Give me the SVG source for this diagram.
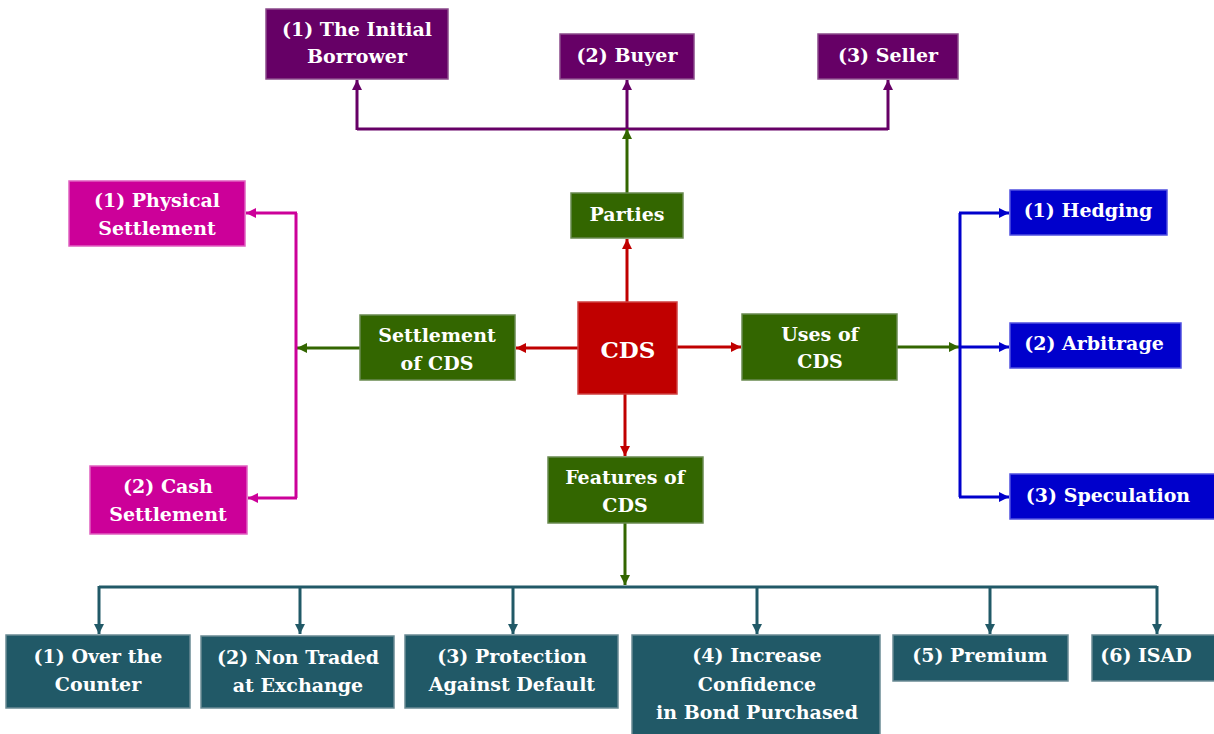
<svg xmlns="http://www.w3.org/2000/svg" width="1214" height="734" viewBox="0 0 1214 734">
<style>
text{font-family:"DejaVu Serif","Liberation Serif",serif;font-weight:bold;font-size:19px;fill:#fff;text-anchor:middle}
.big{font-size:23px}
rect{stroke-width:1.5}
.pu{fill:#660066;stroke:#8a4a8a}
.mg{fill:#cc0099;stroke:#e060c0}
.gr{fill:#336600;stroke:#6a8a50}
.rd{fill:#c00000;stroke:#d04040}
.bl{fill:#0000cc;stroke:#5050e0}
.tl{fill:#215967;stroke:#6a8a94}
#connectors path{fill:none;stroke-width:3}
</style>
<defs>
<marker id="aPu" markerUnits="userSpaceOnUse" markerWidth="12" markerHeight="12" refX="10" refY="5" orient="auto"><path d="M0,0 L10,5 L0,10 z" fill="#660066"/></marker>
<marker id="aMg" markerUnits="userSpaceOnUse" markerWidth="12" markerHeight="12" refX="10" refY="5" orient="auto"><path d="M0,0 L10,5 L0,10 z" fill="#cc0099"/></marker>
<marker id="aGr" markerUnits="userSpaceOnUse" markerWidth="12" markerHeight="12" refX="10" refY="5" orient="auto"><path d="M0,0 L10,5 L0,10 z" fill="#336600"/></marker>
<marker id="aRd" markerUnits="userSpaceOnUse" markerWidth="12" markerHeight="12" refX="10" refY="5" orient="auto"><path d="M0,0 L10,5 L0,10 z" fill="#c00000"/></marker>
<marker id="aBl" markerUnits="userSpaceOnUse" markerWidth="12" markerHeight="12" refX="10" refY="5" orient="auto"><path d="M0,0 L10,5 L0,10 z" fill="#0000cc"/></marker>
<marker id="aTl" markerUnits="userSpaceOnUse" markerWidth="12" markerHeight="12" refX="10" refY="5" orient="auto"><path d="M0,0 L10,5 L0,10 z" fill="#215967"/></marker>
</defs>
<rect width="1214" height="734" fill="#fff" stroke="none"/>
<g id="connectors">
<path d="M357,129 L888,129" stroke="#660066"/>
<path d="M357,130 L357,80" stroke="#660066" marker-end="url(#aPu)"/>
<path d="M627,130 L627,80" stroke="#660066" marker-end="url(#aPu)"/>
<path d="M888,130 L888,80" stroke="#660066" marker-end="url(#aPu)"/>
<path d="M627,193 L627,129" stroke="#336600" marker-end="url(#aGr)"/>
<path d="M627,302 L627,239" stroke="#c00000" marker-end="url(#aRd)"/>
<path d="M578,348 L516,348" stroke="#c00000" marker-end="url(#aRd)"/>
<path d="M677,347 L741,347" stroke="#c00000" marker-end="url(#aRd)"/>
<path d="M625,394 L625,456" stroke="#c00000" marker-end="url(#aRd)"/>
<path d="M360,348 L297,348" stroke="#336600" marker-end="url(#aGr)"/>
<path d="M296,213 L296,498" stroke="#cc0099"/>
<path d="M297,213 L246,213" stroke="#cc0099" marker-end="url(#aMg)"/>
<path d="M297,498 L248,498" stroke="#cc0099" marker-end="url(#aMg)"/>
<path d="M897,347 L959,347" stroke="#336600" marker-end="url(#aGr)"/>
<path d="M960,213 L960,497" stroke="#0000cc"/>
<path d="M959,213 L1009,213" stroke="#0000cc" marker-end="url(#aBl)"/>
<path d="M959,347 L1009,347" stroke="#0000cc" marker-end="url(#aBl)"/>
<path d="M959,497 L1009,497" stroke="#0000cc" marker-end="url(#aBl)"/>
<path d="M625,523 L625,585" stroke="#336600" marker-end="url(#aGr)"/>
<path d="M99,587 L1157,587" stroke="#215967"/>
<path d="M99,586 L99,634" stroke="#215967" marker-end="url(#aTl)"/>
<path d="M300,586 L300,634" stroke="#215967" marker-end="url(#aTl)"/>
<path d="M513,586 L513,634" stroke="#215967" marker-end="url(#aTl)"/>
<path d="M757,586 L757,634" stroke="#215967" marker-end="url(#aTl)"/>
<path d="M990,586 L990,634" stroke="#215967" marker-end="url(#aTl)"/>
<path d="M1157,586 L1157,634" stroke="#215967" marker-end="url(#aTl)"/>
</g>
<g id="borrower"><rect class="pu" x="266" y="9" width="182" height="70"/><text x="357" y="36">(1) The Initial</text><text x="357" y="63">Borrower</text></g>
<g id="buyer"><rect class="pu" x="560" y="34" width="134" height="45"/><text x="627" y="62">(2) Buyer</text></g>
<g id="seller"><rect class="pu" x="818" y="34" width="140" height="45"/><text x="888" y="62">(3) Seller</text></g>
<g id="parties"><rect class="gr" x="571" y="193" width="112" height="45"/><text x="627" y="221">Parties</text></g>
<g id="cds"><rect class="rd" x="578" y="302" width="99" height="92"/><text class="big" x="628" y="358">CDS</text></g>
<g id="settlement"><rect class="gr" x="360" y="315" width="155" height="65"/><text x="437" y="342">Settlement</text><text x="437" y="370">of CDS</text></g>
<g id="uses"><rect class="gr" x="742" y="314" width="155" height="66"/><text x="820" y="341">Uses of</text><text x="820" y="368">CDS</text></g>
<g id="features"><rect class="gr" x="548" y="457" width="155" height="66"/><text x="625" y="484">Features of</text><text x="625" y="512">CDS</text></g>
<g id="physical"><rect class="mg" x="69" y="181" width="176" height="65"/><text x="157" y="207">(1) Physical</text><text x="157" y="235">Settlement</text></g>
<g id="cash"><rect class="mg" x="90" y="466" width="157" height="68"/><text x="168" y="493">(2) Cash</text><text x="168" y="521">Settlement</text></g>
<g id="hedging"><rect class="bl" x="1010" y="190" width="157" height="45"/><text x="1088" y="217">(1) Hedging</text></g>
<g id="arbitrage"><rect class="bl" x="1010" y="323" width="171" height="45"/><text x="1094" y="350">(2) Arbitrage</text></g>
<g id="speculation"><rect class="bl" x="1010" y="474" width="210" height="45"/><text x="1108" y="502">(3) Speculation</text></g>
<g id="f1"><rect class="tl" x="6" y="635" width="184" height="73"/><text x="98" y="663">(1) Over the</text><text x="98" y="691">Counter</text></g>
<g id="f2"><rect class="tl" x="201" y="636" width="193" height="72"/><text x="298" y="664">(2) Non Traded</text><text x="298" y="692">at Exchange</text></g>
<g id="f3"><rect class="tl" x="405" y="635" width="213" height="73"/><text x="512" y="663">(3) Protection</text><text x="512" y="691">Against Default</text></g>
<g id="f4"><rect class="tl" x="632" y="635" width="248" height="105"/><text x="757" y="662">(4) Increase</text><text x="757" y="691">Confidence</text><text x="757" y="719">in Bond Purchased</text></g>
<g id="f5"><rect class="tl" x="893" y="635" width="175" height="46"/><text x="980" y="662">(5) Premium</text></g>
<g id="f6"><rect class="tl" x="1092" y="635" width="130" height="46"/><text x="1146" y="662">(6) ISAD</text></g>
</svg>
